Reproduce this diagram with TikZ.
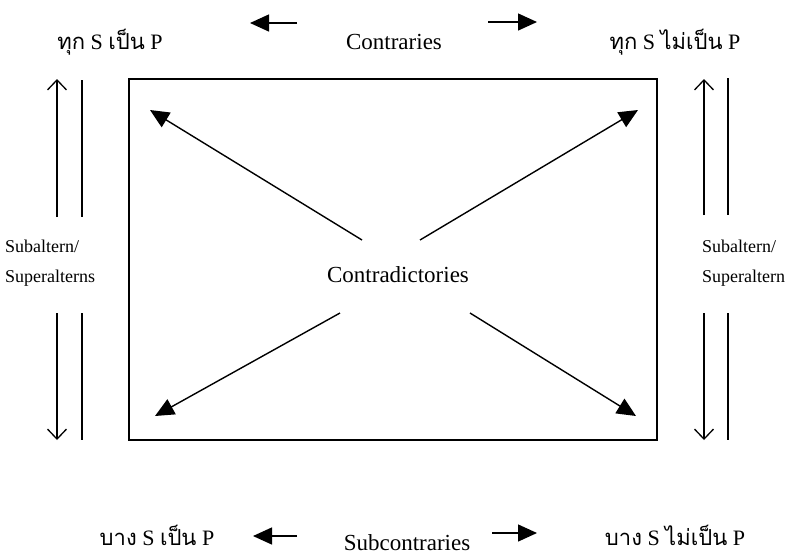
\documentclass[tikz,border=0pt]{standalone}
\usepackage{fontspec}
\setmainfont{Liberation Serif}
\newfontfamily\thaifont[Script=Thai]{Loma}
\usetikzlibrary{arrows.meta,positioning}

\begin{document}
\begin{tikzpicture}[x=1pt,y=-1pt,
    prop/.style={font=\fontsize{22}{24}\selectfont,inner sep=0pt},
    rel/.style={font=\fontsize{23}{26}\selectfont,inner sep=0pt},
    alt/.style={font=\fontsize{18}{20}\selectfont,inner sep=0pt,anchor=west},
    solidarrow/.style={-{Triangle[length=19pt,width=17pt]},line width=1.4pt},
    openarrow/.style={-{Straight Barb[length=10pt,width=19pt,line width=1.3pt]},line width=1.3pt},
  ]
    \useasboundingbox (0,0) rectangle (789,558);

    % the four propositions
    \node[prop] (A) at (110,42)  {{\thaifont ทุก} S {\thaifont เป็น} P};
    \node[prop] (E) at (675,42)  {{\thaifont ทุก} S {\thaifont ไม่เป็น} P};
    \node[prop] (I) at (157,535) {{\thaifont บาง} S {\thaifont เป็น} P};
    \node[prop] (O) at (675,535) {{\thaifont บาง} S {\thaifont ไม่เป็น} P};

    \node[rel] (contr) at (394,42)  {Contraries};
    \node[rel] (subc)  at (407,543) {Subcontraries};
    \node[rel] (cd)    at (398,275) {Contradictories};

    \node[draw,line width=1.7pt,minimum width=528pt,minimum height=361pt,
          inner sep=0pt] (sq) at (393,259.5) {};

    \node[alt] (subL)  at (5,246)   {Subaltern/};
    \node[alt] (supL)  at (5,278)   {Superalterns};
    \node[alt] (subR)  at (702,246) {Subaltern/};
    \node[alt] (supR)  at (702,278) {Superaltern};

    % arrow ends
    \coordinate (ca1) at (297,23);  \coordinate (ca2) at (250,23);
    \coordinate (cb1) at (488,22);  \coordinate (cb2) at (537,22);
    \coordinate (sa1) at (297,536); \coordinate (sa2) at (253,536);
    \coordinate (sb1) at (492,533); \coordinate (sb2) at (537,533);

    \draw[solidarrow] (ca1) -- (ca2);
    \draw[solidarrow] (cb1) -- (cb2);
    \draw[solidarrow] (sa1) -- (sa2);
    \draw[solidarrow] (sb1) -- (sb2);

    % contradictories
    \coordinate (tl0) at (362,240); \coordinate (tl) at (150,110);
    \coordinate (tr0) at (420,240); \coordinate (tr) at (638,110);
    \coordinate (bl0) at (340,313); \coordinate (bl) at (155,416);
    \coordinate (br0) at (470,313); \coordinate (br) at (636,416);
    \draw[solidarrow] (tl0) -- (tl);
    \draw[solidarrow] (tr0) -- (tr);
    \draw[solidarrow] (bl0) -- (bl);
    \draw[solidarrow] (br0) -- (br);

    % subalterns, left
    \coordinate (la1) at (57,217);  \coordinate (la2) at (57,79);
    \coordinate (lb1) at (82,80);   \coordinate (lb2) at (82,217);
    \coordinate (lc1) at (57,313);  \coordinate (lc2) at (57,440);
    \coordinate (ld1) at (82,313);  \coordinate (ld2) at (82,440);
    \draw[openarrow] (la1) -- (la2);
    \draw[line width=1.3pt] (lb1) -- (lb2);
    \draw[openarrow] (lc1) -- (lc2);
    \draw[line width=1.3pt] (ld1) -- (ld2);

    % subalterns, right
    \coordinate (ra1) at (704,215); \coordinate (ra2) at (704,79);
    \coordinate (rb1) at (728,78);  \coordinate (rb2) at (728,215);
    \coordinate (rc1) at (704,313); \coordinate (rc2) at (704,440);
    \coordinate (rd1) at (728,313); \coordinate (rd2) at (728,440);
    \draw[openarrow] (ra1) -- (ra2);
    \draw[line width=1.3pt] (rb1) -- (rb2);
    \draw[openarrow] (rc1) -- (rc2);
    \draw[line width=1.3pt] (rd1) -- (rd2);
  \end{tikzpicture}
\end{document}
